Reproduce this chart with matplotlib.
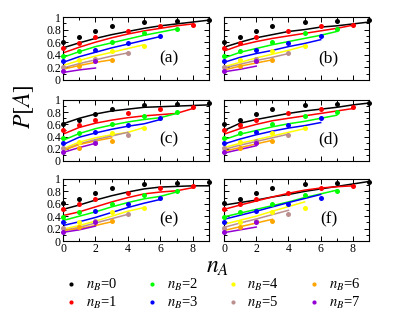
import matplotlib
matplotlib.use('Agg')
import matplotlib.pyplot as plt
from matplotlib.ticker import MultipleLocator
from matplotlib.lines import Line2D

plt.rcParams['font.family'] = ['Liberation Serif', 'DejaVu Serif']
plt.rcParams['mathtext.fontset'] = 'stix'

# ---- data ----
nB_labels = [r'$n_B$=0', r'$n_B$=1', r'$n_B$=2', r'$n_B$=3',
             r'$n_B$=4', r'$n_B$=5', r'$n_B$=6', r'$n_B$=7']
colors = ['#000000', '#ff0000', '#00ff00', '#0000ff',
          '#ffff00', '#bc8f8f', '#ffa500', '#9400d3']
panel_labels = ['(a)', '(b)', '(c)', '(d)', '(e)', '(f)']

# observed points (n_A values and P[A]) per n_B
obs_nA = [[0, 1, 2, 3, 5, 7, 9],
          [0, 1, 2, 4, 6, 8],
          [0, 1, 3, 5, 7],
          [0, 2, 4, 6],
          [1, 3, 5],
          [0, 2, 4],
          [1, 3],
          [0, 2]]
obs_P = [[0.61, 0.68, 0.77, 0.85, 0.92, 0.94, 0.95],
         [0.51, 0.59, 0.68, 0.78, 0.85, 0.88],
         [0.38, 0.46, 0.60, 0.74, 0.81],
         [0.30, 0.48, 0.59, 0.70],
         [0.31, 0.46, 0.54],
         [0.21, 0.33, 0.43],
         [0.22, 0.32],
         [0.15, 0.30]]

# fitted curves, values at n_A = 0, 1, 2, ...
fit_a = [[0.51, 0.59, 0.66, 0.72, 0.77, 0.82, 0.86, 0.89, 0.92, 0.95],
         [0.43, 0.52, 0.60, 0.67, 0.73, 0.78, 0.82, 0.86, 0.89],
         [0.36, 0.45, 0.53, 0.59, 0.65, 0.71, 0.76, 0.81],
         [0.28, 0.37, 0.44, 0.51, 0.57, 0.63, 0.69],
         [0.23, 0.31, 0.38, 0.44, 0.50, 0.56],
         [0.19, 0.26, 0.32, 0.38, 0.43],
         [0.17, 0.23, 0.28, 0.32],
         [0.12, 0.16, 0.19]]
fit_b = [[0.52, 0.60, 0.67, 0.72, 0.77, 0.80, 0.84, 0.86, 0.89, 0.92],
         [0.46, 0.55, 0.61, 0.66, 0.70, 0.74, 0.78, 0.82, 0.87],
         [0.35, 0.44, 0.50, 0.56, 0.61, 0.66, 0.71, 0.77],
         [0.28, 0.36, 0.42, 0.47, 0.53, 0.58, 0.64],
         [0.21, 0.28, 0.35, 0.41, 0.47, 0.54],
         [0.19, 0.25, 0.31, 0.36, 0.42],
         [0.16, 0.22, 0.27, 0.32],
         [0.13, 0.17, 0.22]]
fit_c = [[0.61, 0.70, 0.77, 0.82, 0.85, 0.88, 0.89, 0.90, 0.91, 0.92],
         [0.44, 0.55, 0.62, 0.67, 0.71, 0.74, 0.76, 0.78, 0.86],
         [0.34, 0.45, 0.53, 0.59, 0.64, 0.68, 0.71, 0.78],
         [0.27, 0.39, 0.46, 0.52, 0.57, 0.61, 0.68],
         [0.20, 0.31, 0.38, 0.43, 0.47, 0.55],
         [0.18, 0.28, 0.35, 0.41, 0.47],
         [0.17, 0.27, 0.33, 0.38],
         [0.14, 0.22, 0.29]]
fit_d = [[0.50, 0.62, 0.68, 0.73, 0.78, 0.82, 0.85, 0.88, 0.92, 0.95],
         [0.44, 0.53, 0.60, 0.66, 0.70, 0.74, 0.78, 0.82, 0.86],
         [0.35, 0.44, 0.50, 0.56, 0.61, 0.65, 0.70, 0.75],
         [0.28, 0.36, 0.43, 0.49, 0.54, 0.58, 0.63],
         [0.22, 0.29, 0.35, 0.41, 0.47, 0.53],
         [0.19, 0.26, 0.32, 0.38, 0.44],
         [0.16, 0.22, 0.28, 0.34],
         [0.13, 0.19, 0.25]]
fit_e = [[0.51, 0.58, 0.66, 0.73, 0.79, 0.84, 0.87, 0.88, 0.89, 0.89],
         [0.41, 0.47, 0.55, 0.63, 0.70, 0.76, 0.79, 0.81, 0.86],
         [0.33, 0.40, 0.47, 0.55, 0.62, 0.68, 0.72, 0.79],
         [0.25, 0.31, 0.38, 0.46, 0.54, 0.61, 0.67],
         [0.19, 0.25, 0.32, 0.40, 0.48, 0.54],
         [0.17, 0.22, 0.29, 0.36, 0.43],
         [0.17, 0.20, 0.25, 0.31],
         [0.14, 0.18, 0.24]]
fit_f = [[0.58, 0.62, 0.66, 0.71, 0.75, 0.80, 0.84, 0.88, 0.92, 0.96],
         [0.51, 0.58, 0.645, 0.71, 0.77, 0.82, 0.855, 0.875, 0.89],
         [0.39, 0.45, 0.51, 0.57, 0.63, 0.70, 0.76, 0.82],
         [0.35, 0.415, 0.48, 0.55, 0.62, 0.685, 0.75],
         [0.27, 0.335, 0.40, 0.48, 0.555, 0.63],
         [0.22, 0.29, 0.355, 0.425, 0.495],
         [0.17, 0.23, 0.29, 0.35],
         [0.135, 0.18, 0.225]]
fits = [fit_a, fit_b, fit_c, fit_d, fit_e, fit_f]

# ---- layout ----
W, H = 415, 321
fig = plt.figure(figsize=(W / 100, H / 100), dpi=100)
lefts = [63, 224]
widths = [146, 145]
tops = [17, 100, 179]
heights = [63, 61, 62]

axes = []
for r in range(3):
    for c in range(2):
        rect = [lefts[c] / W, 1 - (tops[r] + heights[r]) / H,
                widths[c] / W, heights[r] / H]
        axes.append(fig.add_axes(rect))

for i, ax in enumerate(axes):
    fit = fits[i]
    for b in range(8):
        xs = list(range(len(fit[b])))
        ax.plot(xs, fit[b], color=colors[b], lw=1.1, zorder=2)
        ax.plot(obs_nA[b], obs_P[b], 'o', ms=3.6, color=colors[b],
                clip_on=False, zorder=3, mew=0)
    ax.set_xlim(0, 9)
    ax.set_ylim(0, 1)
    ax.xaxis.set_major_locator(MultipleLocator(2))
    ax.xaxis.set_minor_locator(MultipleLocator(1))
    ax.yaxis.set_major_locator(MultipleLocator(0.2))
    ax.yaxis.set_minor_locator(MultipleLocator(0.1))
    ax.tick_params(which='both', direction='in', top=True, right=True,
                   labelsize=8.5, pad=1.5)
    ax.tick_params(which='major', length=3.5, width=0.7)
    ax.tick_params(which='minor', length=2, width=0.7)
    for s in ax.spines.values():
        s.set_linewidth(0.8)
    row, col = divmod(i, 2)
    if col == 1:
        ax.set_yticklabels([])
    else:
        ax.set_yticks([0, 0.2, 0.4, 0.6, 0.8, 1.0])
        ax.set_yticklabels(['0', '0.2', '0.4', '0.6', '0.8', '1'])
    if row < 2:
        ax.set_xticklabels([])
    ax.text(6.5, 0.35, panel_labels[i], fontsize=12.5, ha='center', va='center')

fig.text(24 / W, 1 - 107 / H, r'$P[A]$', fontsize=17, rotation=90,
         ha='center', va='center')
fig.text(218 / W, 1 - 268 / H, r'$n_A$', fontsize=17, ha='center', va='center')

handles = [Line2D([], [], marker='o', ls='none', color=colors[b], ms=3, mew=0)
           for b in range(8)]
fig.legend(handles, nB_labels, ncol=4, loc='center',
           bbox_to_anchor=(212 / W, 1 - 294 / H), frameon=False,
           fontsize=10.5, handlelength=1.0, handletextpad=0.5,
           columnspacing=1.9, labelspacing=0.15)

fig.savefig('out.png', dpi=100)
